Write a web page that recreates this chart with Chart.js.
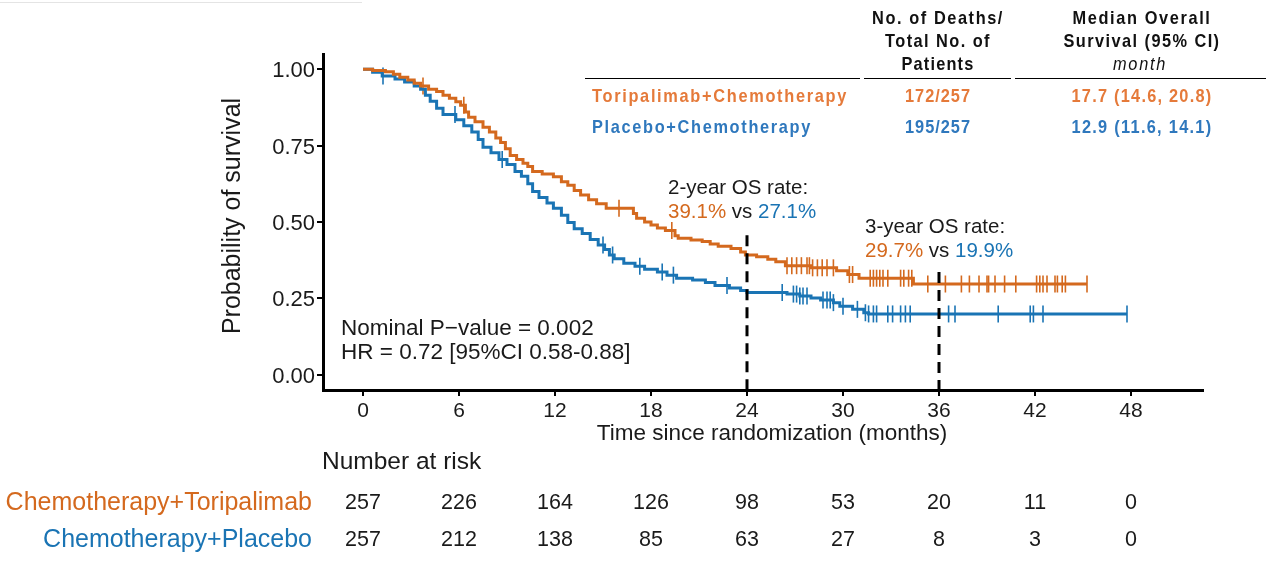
<!DOCTYPE html>
<html>
<head>
<meta charset="utf-8">
<script src="https://cdn.jsdelivr.net/npm/chart.js@4.4.1/dist/chart.umd.min.js"></script>
<style>
  html, body { margin: 0; padding: 0; background: #fff; }
  #wrap { position: relative; width: 1266px; height: 564px; overflow: hidden; }
  #km { position: absolute; left: 0; top: 0; }
  .topline { position: absolute; left: 0; top: 2px; width: 362px; height: 1px; background: #e4e4e4; }
  .tb { position: absolute; white-space: nowrap; font-family: "Liberation Sans Narrow", "Liberation Sans", Arial, sans-serif;
        font-weight: bold; font-size: 19px; line-height: 1; transform: translate(-50%, -50%) scaleX(0.86); color: #111; }
  .tb.left { transform-origin: left center; transform: translate(0, -50%) scaleX(0.86); }
  .tb.it { font-style: italic; font-weight: normal; }
  .rule { position: absolute; top: 78px; height: 1px; background: #000; }
  .ori { color: #E57A3A; }
  .blu { color: #2F78BD; }
</style>
</head>
<body>
<div id="wrap">
  <div class="topline"></div>
  <canvas id="km" width="1266" height="564"></canvas>

  <div class="tb" style="left:938px; top:17px" data-w="132">No. of Deaths/</div>
  <div class="tb" style="left:938px; top:40px" data-w="106">Total No. of</div>
  <div class="tb" style="left:938px; top:63px" data-w="73">Patients</div>
  <div class="tb" style="left:1142px; top:17px" data-w="139">Median Overall</div>
  <div class="tb" style="left:1142px; top:40px" data-w="157">Survival (95% CI)</div>
  <div class="tb it" style="left:1140px; top:63px" data-w="54">month</div>
  <div class="rule" style="left:585px; width:275px"></div>
  <div class="rule" style="left:864px; width:147px"></div>
  <div class="rule" style="left:1015px; width:251px"></div>
  <div class="tb left ori" style="left:592px; top:95px" data-w="256">Toripalimab+Chemotherapy</div>
  <div class="tb ori" style="left:938px; top:95px" data-w="66">172/257</div>
  <div class="tb ori" style="left:1142px; top:95px" data-w="141">17.7 (14.6, 20.8)</div>
  <div class="tb left blu" style="left:592px; top:126px" data-w="220">Placebo+Chemotherapy</div>
  <div class="tb blu" style="left:938px; top:126px" data-w="66">195/257</div>
  <div class="tb blu" style="left:1142px; top:126px" data-w="141">12.9 (11.6, 14.1)</div>
</div>

<script>
// Kaplan-Meier curves: [month, survival]
const toriCurve = [
  [0, 1.0], [0.6, 0.996], [1.4, 0.992], [1.9, 0.984], [2.3, 0.974], [2.8, 0.965], [3.2, 0.954],
  [3.6, 0.945], [4.1, 0.935], [4.6, 0.927], [5.0, 0.915], [5.4, 0.905], [5.8, 0.894], [6.1, 0.882],
  [6.4, 0.86], [6.6, 0.843], [7.0, 0.828], [7.5, 0.81], [7.9, 0.795], [8.3, 0.775], [8.6, 0.76],
  [8.9, 0.74], [9.2, 0.718], [9.6, 0.705], [10.0, 0.692], [10.3, 0.682], [10.6, 0.665], [11.2, 0.657],
  [11.9, 0.648], [12.4, 0.632], [12.8, 0.62], [13.2, 0.603], [13.6, 0.588], [14.1, 0.573], [14.6, 0.56],
  [15.2, 0.545], [16.9, 0.528], [17.1, 0.512], [17.6, 0.5], [18.0, 0.49], [18.4, 0.48], [18.9, 0.472],
  [19.5, 0.455], [19.7, 0.447], [20.5, 0.441], [21.2, 0.436], [21.7, 0.428], [22.2, 0.421], [23.0, 0.413],
  [23.6, 0.402], [23.9, 0.392], [24.6, 0.386], [25.3, 0.378], [25.8, 0.37], [26.4, 0.357], [28.0, 0.35],
  [29.6, 0.34], [30.3, 0.328], [31.0, 0.316], [34.4, 0.297], [45.25, 0.297]
];
const placCurve = [
  [0, 1.0], [0.6, 0.99], [1.2, 0.978], [2.0, 0.968], [2.6, 0.958], [3.2, 0.945], [3.6, 0.935],
  [3.9, 0.915], [4.2, 0.895], [4.6, 0.872], [5.0, 0.852], [5.8, 0.835], [6.3, 0.815], [6.8, 0.795],
  [7.2, 0.77], [7.5, 0.745], [8.0, 0.727], [8.5, 0.705], [9.0, 0.688], [9.5, 0.665], [9.9, 0.65],
  [10.3, 0.625], [10.6, 0.6], [11.0, 0.58], [11.5, 0.562], [11.9, 0.545], [12.4, 0.522], [12.8, 0.498],
  [13.2, 0.478], [13.7, 0.462], [14.2, 0.443], [14.7, 0.425], [15.1, 0.41], [15.4, 0.392], [15.7, 0.38],
  [16.3, 0.365], [17.0, 0.355], [17.6, 0.345], [18.4, 0.336], [19.0, 0.326], [19.6, 0.316], [20.6, 0.31],
  [21.4, 0.302], [22.0, 0.292], [22.9, 0.284], [23.6, 0.276], [24.0, 0.269], [26.5, 0.264], [27.3, 0.258],
  [28.0, 0.251], [28.6, 0.245], [29.4, 0.236], [29.8, 0.224], [30.6, 0.214], [31.3, 0.203], [31.6, 0.199],
  [47.75, 0.199]
];

// censoring times (months)
const toriCensor = [3.75, 6.3, 16.0, 19.3, 26.5, 26.8, 27.1, 27.4, 27.75, 27.9, 28.1, 28.4, 28.7, 29.0, 29.4,
  30.4, 30.6, 31.7, 31.9, 32.1, 32.3, 32.5, 32.8, 33.6, 33.8, 34.1, 34.3, 35.3, 36.4, 37.4, 37.9, 38.5, 39.0,
  39.1, 39.5, 40.1, 40.8, 42.1, 42.3, 42.5, 42.75, 43.25, 43.4, 43.7, 43.9, 45.25];
const placCensor = [1.25, 5.75, 8.7, 15.0, 15.6, 17.3, 18.7, 19.4, 22.75, 26.2, 26.9, 27.1, 27.3, 27.5, 27.75,
  28.75, 29.0, 29.2, 29.4, 30.0, 30.9, 31.4, 31.6, 31.9, 32.1, 32.8, 33.1, 33.6, 33.9, 34.2, 36.6, 37.0, 39.7,
  41.7, 41.9, 42.5, 47.75];

const xTicks = [0, 6, 12, 18, 24, 30, 36, 42, 48];
const yTicks = [0, 0.25, 0.5, 0.75, 1.0];

// number at risk
const riskTori = [257, 226, 164, 126, 98, 53, 20, 11, 0];
const riskPlac = [257, 212, 138, 85, 63, 27, 8, 3, 0];

const ORANGE = '#D4691E';
const BLUE = '#1A74B4';
const FONT = '"Liberation Sans", Arial, sans-serif';

function survAt(curve, t) {
  let s = curve[0][1];
  for (const [m, v] of curve) { if (m <= t) s = v; else break; }
  return s;
}

const toXY = arr => arr.map(([x, y]) => ({ x, y }));

// dashed landmark lines and annotation text, risk table
const overlay = {
  id: 'overlay',
  afterDatasetsDraw(chart) {
    const { ctx, chartArea } = chart;
    const x = chart.scales.x, y = chart.scales.y;
    ctx.save();
    ctx.strokeStyle = '#000';
    ctx.lineWidth = 3;
    ctx.setLineDash([11, 7]);
    [[24, 0.457], [36, 0.336]].forEach(([t, top]) => {
      const px = x.getPixelForValue(t);
      ctx.beginPath();
      ctx.moveTo(px, y.getPixelForValue(top));
      ctx.lineTo(px, chartArea.bottom);
      ctx.stroke();
    });
    ctx.restore();
  },
  afterDraw(chart) {
    const { ctx } = chart;
    const x = chart.scales.x;
    ctx.save();
    ctx.textBaseline = 'middle';

    const runs = (parts, px, py, size) => {
      ctx.font = size + 'px ' + FONT;
      ctx.textAlign = 'left';
      let cx = px;
      parts.forEach(([s, c]) => { ctx.fillStyle = c; ctx.fillText(s, cx, py); cx += ctx.measureText(s).width; });
    };

    runs([['2-year OS rate:', '#1a1a1a']], 668, 188, 20.5);
    runs([['39.1%', ORANGE], [' vs ', '#1a1a1a'], ['27.1%', BLUE]], 668, 212, 20.5);
    runs([['3-year OS rate:', '#1a1a1a']], 865, 227, 20.5);
    runs([['29.7%', ORANGE], [' vs ', '#1a1a1a'], ['19.9%', BLUE]], 865, 251, 20.5);
    runs([['Nominal P\u2212value = 0.002', '#1a1a1a']], 341, 329, 22.5);
    runs([['HR = 0.72 [95%CI 0.58-0.88]', '#1a1a1a']], 341, 353, 22.5);

    // axis titles
    ctx.fillStyle = '#1a1a1a';
    ctx.font = '22.5px ' + FONT;
    ctx.textAlign = 'center';
    ctx.fillText('Time since randomization (months)', 772, 434);
    ctx.save();
    ctx.translate(233, 216);
    ctx.rotate(-Math.PI / 2);
    ctx.font = '25px ' + FONT;
    ctx.fillText('Probability of survival', 0, 0);
    ctx.restore();

    // number at risk table
    ctx.font = '24.5px ' + FONT;
    ctx.textAlign = 'left';
    ctx.fillText('Number at risk', 322, 462);
    ctx.textAlign = 'right';
    ctx.font = '25px ' + FONT;
    ctx.fillStyle = ORANGE;
    ctx.fillText('Chemotherapy+Toripalimab', 312, 503);
    ctx.fillStyle = BLUE;
    ctx.fillText('Chemotherapy+Placebo', 312, 540);
    ctx.font = '21.5px ' + FONT;
    ctx.textAlign = 'center';
    ctx.fillStyle = '#1a1a1a';
    xTicks.forEach((t, i) => {
      const px = x.getPixelForValue(t);
      ctx.fillText(String(riskTori[i]), px, 503);
      ctx.fillText(String(riskPlac[i]), px, 540);
    });
    ctx.restore();
  }
};

new Chart(document.getElementById('km'), {
  type: 'line',
  data: {
    datasets: [
      { data: toXY(toriCurve), stepped: true, borderColor: ORANGE, borderWidth: 3, pointRadius: 0, fill: false },
      { data: toXY(placCurve), stepped: true, borderColor: BLUE, borderWidth: 3, pointRadius: 0, fill: false },
      { type: 'scatter', data: toriCensor.map(t => ({ x: t, y: survAt(toriCurve, t) })), showLine: false,
        pointStyle: 'line', rotation: 90, radius: 8.5, borderColor: ORANGE, borderWidth: 1.6 },
      { type: 'scatter', data: placCensor.map(t => ({ x: t, y: survAt(placCurve, t) })), showLine: false,
        pointStyle: 'line', rotation: 90, radius: 8.5, borderColor: BLUE, borderWidth: 1.6 }
    ]
  },
  options: {
    responsive: false,
    animation: false,
    layout: { padding: { left: 0, right: 63, top: 54, bottom: 0 } },
    plugins: { legend: { display: false }, tooltip: { enabled: false } },
    scales: {
      x: {
        type: 'linear', min: -2.5, max: 52.5,
        afterBuildTicks: s => { s.ticks = xTicks.map(v => ({ value: v })); },
        afterFit: s => { s.height = 174; },
        grid: { drawOnChartArea: false, drawTicks: true, tickLength: 6, color: '#000', lineWidth: 2 },
        border: { color: '#000', width: 3 },
        ticks: { color: '#1a1a1a', font: { size: 21, family: FONT }, padding: 3, maxRotation: 0 }
      },
      y: {
        type: 'linear', min: -0.05, max: 1.05,
        afterBuildTicks: s => { s.ticks = yTicks.map(v => ({ value: v })); },
        afterFit: s => { s.width = 323; },
        grid: { drawOnChartArea: false, drawTicks: true, tickLength: 6, color: '#000', lineWidth: 2 },
        border: { color: '#000', width: 3 },
        ticks: { color: '#1a1a1a', font: { size: 22, family: FONT }, padding: 2, labelOffset: 2,
                 callback: v => v.toFixed(2) }
      }
    }
  },
  plugins: [overlay]
});

// fit table text widths with letter spacing (elements are squeezed by scaleX 0.86)
document.querySelectorAll('.tb[data-w]').forEach(el => {
  const target = +el.dataset.w;
  const n = el.textContent.length;
  for (let k = 0; k < 2; k++) {
    const w = el.getBoundingClientRect().width;
    const cur = parseFloat(el.style.letterSpacing) || 0;
    el.style.letterSpacing = (cur + (target - w) / (n * 0.86)).toFixed(2) + 'px';
  }
});
</script>
</body>
</html>
